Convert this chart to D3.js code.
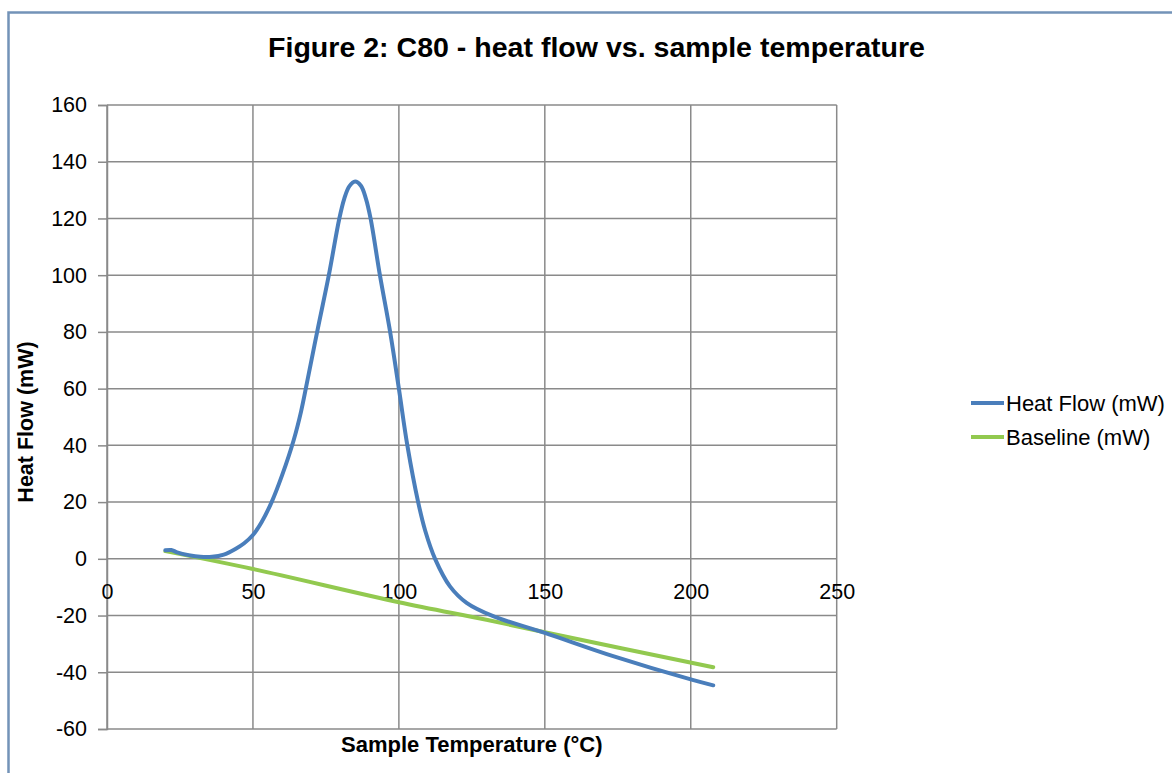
<!DOCTYPE html>
<html>
<head>
<meta charset="utf-8">
<script src="https://cdn.jsdelivr.net/npm/d3@7"></script>
<style>
  html, body { margin: 0; padding: 0; background: #ffffff; }
  svg { display: block; }
  text { font-family: "Liberation Sans", Arial, sans-serif; fill: #000; }
</style>
</head>
<body>
<svg id="chart" width="1172" height="773"></svg>
<script>
// ---- Data ----
const chartTitle = "Figure 2: C80 - heat flow vs. sample temperature";
const xAxisTitle = "Sample Temperature (°C)";
const yAxisTitle = "Heat Flow (mW)";
const seriesNames = ["Heat Flow (mW)", "Baseline (mW)"];

// Heat flow curve: sample temperature (°C)
const heatTemp = [20, 22, 24, 28, 32, 36, 40, 44, 47, 50, 53, 56.4, 60, 64, 66.5, 68.5, 72, 76, 79.6, 81.3, 83, 85, 87, 88.7, 90.3, 93.5, 97, 100, 102.9, 106.6, 109, 112.4, 117.5, 123.2, 132.3, 150, 173.4, 200.3, 207.7];
// Heat flow values (mW)
const heatFlow = [3.0, 3.1, 2.3, 1.3, 0.7, 0.7, 1.5, 3.5, 5.5, 8.4, 13.0, 20, 29.5, 42, 52, 62, 80, 100, 120, 127, 131.3, 133, 131.5, 127, 120, 100, 80, 60, 40, 20, 10, 0, -9.7, -15.5, -20.2, -26.1, -34.3, -42.6, -44.6];

// Baseline: temperature (°C) and values (mW)
const baseTemp = [20, 50, 100, 130, 150, 207.7];
const baseline = [2.7, -3.6, -15.3, -21.5, -25.9, -38.2];

// Axis ticks
const xTicks = [0, 50, 100, 150, 200, 250];
const yTicks = [-60, -40, -20, 0, 20, 40, 60, 80, 100, 120, 140, 160];

const colors = ["#4a7ebb", "#92c94f"];

// ---- Drawing ----
const svg = d3.select("#chart");
const FONT = "'Liberation Sans', Arial, sans-serif";

// frame
svg.append("path")
  .attr("d", "M8.5,800 L8.5,12.5 L1200,12.5")
  .attr("fill", "none").attr("stroke", "#7393b8").attr("stroke-width", 2.5);

const x = d3.scaleLinear().domain([0, 250]).range([107, 836.7]);
const y = d3.scaleLinear().domain([-60, 160]).range([729, 105]);

const gridColor = "#8a8a8a";

// horizontal gridlines
svg.append("g").selectAll("line").data(yTicks).join("line")
  .attr("x1", x(0)).attr("x2", x(250))
  .attr("y1", d => y(d)).attr("y2", d => y(d))
  .attr("stroke", gridColor).attr("stroke-width", 1.5);

// vertical gridlines
svg.append("g").selectAll("line").data(xTicks).join("line")
  .attr("x1", d => x(d)).attr("x2", d => x(d))
  .attr("y1", y(-60)).attr("y2", y(160))
  .attr("stroke", gridColor).attr("stroke-width", 1.5);

// Y axis
const yAxis = d3.axisLeft(y).tickValues(yTicks).tickSize(9).tickPadding(11).tickFormat(d => String(d));
const gy = svg.append("g").attr("transform", `translate(${x(0)},0)`).call(yAxis);
gy.select(".domain").attr("stroke", gridColor).attr("stroke-width", 1.5);
gy.selectAll(".tick line").attr("stroke", gridColor).attr("stroke-width", 1.5);
gy.selectAll(".tick text").style("font-family", FONT).style("font-size", "21.5px").attr("fill", "#000");

// X axis (labels placed below the zero line)
const xAxis = d3.axisBottom(x).tickValues(xTicks).tickSize(0).tickPadding(25).tickFormat(d => String(d));
const gx = svg.append("g").attr("transform", `translate(0,${y(0)})`).call(xAxis);
gx.select(".domain").remove();
gx.selectAll(".tick text").style("font-family", FONT).style("font-size", "21.5px").attr("fill", "#000");

// lines
const line = d3.line().x(d => x(d[0])).y(d => y(d[1])).curve(d3.curveCatmullRom.alpha(0.5));
const heatData = heatTemp.map((t, i) => [t, heatFlow[i]]);
const baseData = baseTemp.map((t, i) => [t, baseline[i]]);

svg.append("path").datum(baseData)
  .attr("d", line).attr("fill", "none")
  .attr("stroke", colors[1]).attr("stroke-width", 4).attr("stroke-linecap", "round");
svg.append("path").datum(heatData)
  .attr("d", line).attr("fill", "none")
  .attr("stroke", colors[0]).attr("stroke-width", 4).attr("stroke-linecap", "round").attr("stroke-linejoin", "round");

// Title
svg.append("text").attr("x", 596.5).attr("y", 57)
  .attr("text-anchor", "middle")
  .attr("textLength", 657).attr("lengthAdjust", "spacingAndGlyphs")
  .style("font-size", "28px").style("font-weight", "bold")
  .text(chartTitle);

// axis titles
svg.append("text").attr("x", 471.8).attr("y", 752)
  .attr("text-anchor", "middle")
  .style("font-size", "22px").style("font-weight", "bold")
  .text(xAxisTitle);

svg.append("text")
  .attr("transform", `translate(33,${(y(-60) + y(160)) / 2 + 5}) rotate(-90)`)
  .attr("text-anchor", "middle")
  .style("font-size", "21.5px").style("font-weight", "bold")
  .text(yAxisTitle);

// Legend
const legend = svg.append("g");
seriesNames.forEach((name, i) => {
  const ly = 403 + i * 34;
  legend.append("line").attr("x1", 971).attr("x2", 1004).attr("y1", ly).attr("y2", ly)
    .attr("stroke", colors[i]).attr("stroke-width", 4);
  legend.append("text").attr("x", 1006).attr("y", ly + 8)
    .style("font-size", "22px").text(name);
});
</script>
</body>
</html>
